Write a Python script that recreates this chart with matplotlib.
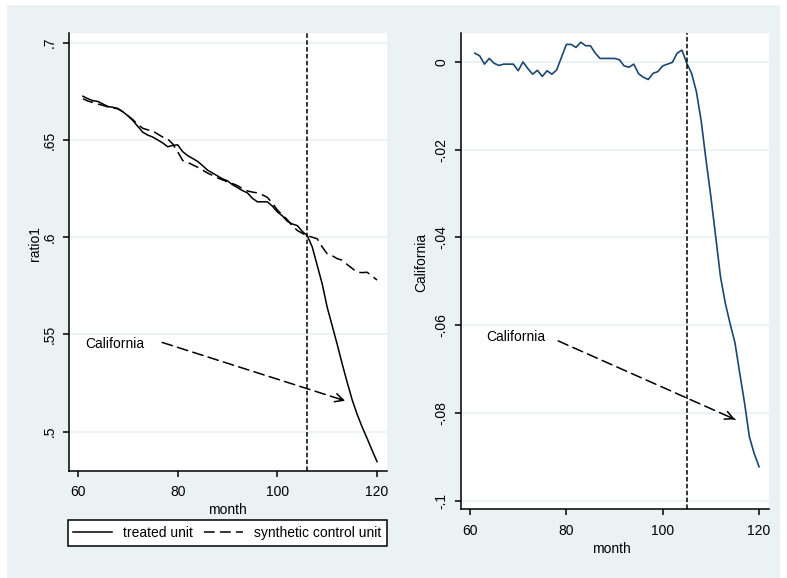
import matplotlib
matplotlib.use('Agg')
import matplotlib.pyplot as plt
from matplotlib.patches import Rectangle
from matplotlib.lines import Line2D

plt.rcParams['font.family'] = ['Liberation Sans', 'DejaVu Sans']

months = list(range(61, 121))

treated = [0.6725, 0.6712, 0.6702, 0.6698, 0.6685, 0.6672, 0.6668, 0.6662, 0.6645, 0.6625,
           0.6600, 0.6570, 0.6540, 0.6525, 0.6515, 0.6500, 0.6485, 0.6465, 0.6472, 0.6475,
           0.6440, 0.6420, 0.6405, 0.6390, 0.6368, 0.6345, 0.6330, 0.6315, 0.6300, 0.6290,
           0.6270, 0.6255, 0.6240, 0.6228, 0.6200, 0.6182, 0.6182, 0.6182, 0.6160, 0.6130,
           0.6110, 0.6082, 0.6068, 0.6060, 0.6030, 0.6008, 0.5950, 0.5855, 0.5760, 0.5640,
           0.5545, 0.5450, 0.5350, 0.5255, 0.5165, 0.5090, 0.5025, 0.4966, 0.4905, 0.4846]

synthetic = [0.6712, 0.6700, 0.6693, 0.6685, 0.6678, 0.6670, 0.6665, 0.6660, 0.6645, 0.6625,
             0.6605, 0.6580, 0.6560, 0.6552, 0.6547, 0.6530, 0.6515, 0.6505, 0.6480, 0.6440,
             0.6395, 0.6385, 0.6372, 0.6360, 0.6345, 0.6330, 0.6318, 0.6305, 0.6295, 0.6285,
             0.6276, 0.6265, 0.6250, 0.6238, 0.6232, 0.6228, 0.6218, 0.6205, 0.6175, 0.6140,
             0.6115, 0.6090, 0.6058, 0.6035, 0.6020, 0.6008, 0.6000, 0.5992, 0.5950, 0.5915,
             0.5905, 0.5890, 0.5882, 0.5860, 0.5840, 0.5820, 0.5818, 0.5820, 0.5800, 0.5780]

gap = [0.0020, 0.0014, -0.0005, 0.0008, -0.0003, -0.0008, -0.0005, -0.0005, -0.0005, -0.0020,
       0.0000, -0.0015, -0.0028, -0.0019, -0.0033, -0.0020, -0.0028, -0.0018, 0.0011, 0.0040,
       0.0040, 0.0033, 0.0045, 0.0037, 0.0037, 0.0020, 0.0008, 0.0008, 0.0008, 0.0008,
       0.0005, -0.0009, -0.0012, -0.0005, -0.0027, -0.0035, -0.0040, -0.0026, -0.0022, -0.0009,
       -0.0005, -0.0001, 0.0020, 0.0027, -0.0003, -0.0026, -0.0068, -0.0135, -0.0224, -0.0307,
       -0.0398, -0.0490, -0.0550, -0.0597, -0.0640, -0.0710, -0.0778, -0.0855, -0.0893, -0.0923]

left_yticks = [0.5, 0.55, 0.6, 0.65, 0.7]
left_yticklabels = ['.5', '.55', '.6', '.65', '.7']
right_yticks = [-0.1, -0.08, -0.06, -0.04, -0.02, 0]
right_yticklabels = ['-.1', '-.08', '-.06', '-.04', '-.02', '0']
xticks = [60, 80, 100, 120]

left_treat_month = 106
right_treat_month = 105

bg = '#EAF2F3'
navy = '#1A476F'

fig = plt.figure(figsize=(7.87, 5.78), dpi=100)
fig.patch.set_facecolor('white')
fig.patches.append(Rectangle((7 / 787, 0), 773 / 787, 573 / 578, transform=fig.transFigure,
                             facecolor=bg, edgecolor='none', zorder=-10))

ax1 = fig.add_axes([69 / 787, 107 / 578, 318 / 787, 438 / 578])
ax2 = fig.add_axes([461 / 787, 68.7 / 578, 308 / 787, 476.3 / 578])


def style(ax, yticks, ylabels):
    ax.set_facecolor('white')
    for s in ['top', 'right']:
        ax.spines[s].set_visible(False)
    for s in ['left', 'bottom']:
        ax.spines[s].set_linewidth(1.1)
    ax.set_xticks(xticks)
    ax.set_xticklabels([str(t) for t in xticks])
    ax.set_yticks(yticks)
    ax.set_yticklabels(ylabels, rotation=90, va='center')
    ax.tick_params(axis='both', direction='out', length=4.3, width=1.1, labelsize=10)
    ax.tick_params(axis='x', pad=6)
    ax.tick_params(axis='y', pad=4.5)
    for y in yticks:
        ax.axhline(y, color=bg, lw=1.3, zorder=0)


def label_arrow(ax, start, end):
    # dashed shaft, solid open head
    ax.annotate('', xy=end, xytext=start,
                arrowprops=dict(arrowstyle='-', color='black', lw=1.1,
                                linestyle=(0, (7, 3.5)), shrinkA=0, shrinkB=0))
    near = (start[0] + 0.97 * (end[0] - start[0]), start[1] + 0.97 * (end[1] - start[1]))
    ax.annotate('', xy=end, xytext=near,
                arrowprops=dict(arrowstyle='->,head_length=0.6,head_width=0.3', color='black',
                                lw=1.1, shrinkA=0, shrinkB=0))


# left panel: treated vs synthetic
style(ax1, left_yticks, left_yticklabels)
ax1.plot(months, treated, color='black', lw=1.1, label='treated unit')
ax1.plot(months, synthetic, color='black', lw=1.1, dashes=(7, 3.5), label='synthetic control unit')
ax1.axvline(left_treat_month, color='black', lw=1.1, dashes=(3, 1.5))
ax1.set_xlim(58.2, 122.0)
ax1.set_ylim(0.4798, 0.705)
ax1.set_xlabel('month', fontsize=10)
ax1.set_ylabel('ratio1', fontsize=10)
ax1.xaxis.set_label_coords(0.497, -0.072)
ax1.yaxis.set_label_coords(-0.085, 0.519)
ax1.text(61.4, 0.5451, 'California', fontsize=10, va='center', ha='left')
label_arrow(ax1, (76.9, 0.5459), (113.6, 0.5159))

# right panel: gap
style(ax2, right_yticks, right_yticklabels)
ax2.plot(months, gap, color=navy, lw=1.2)
ax2.axvline(right_treat_month, color='black', lw=1.1, dashes=(3, 1.5))
ax2.set_xlim(58.13, 122.07)
ax2.set_ylim(-0.102, 0.0066)
ax2.set_xlabel('month', fontsize=10)
ax2.set_ylabel('California', fontsize=10)
ax2.xaxis.set_label_coords(0.49, -0.069)
ax2.yaxis.set_label_coords(-0.107, 0.519)
ax2.text(63.3, -0.0628, 'California', fontsize=10, va='center', ha='left')
label_arrow(ax2, (78.3, -0.0636), (115.0, -0.0815))

handles = [Line2D([], [], color='black', lw=1.1),
           Line2D([], [], color='black', lw=1.1, dashes=(7, 3.5))]
leg = fig.legend(handles, ['treated unit', 'synthetic control unit'], ncol=2,
                 loc='center', bbox_to_anchor=(227.5 / 787, 1 - 533 / 578),
                 fontsize=10, frameon=True, fancybox=False, handlelength=2.8,
                 handletextpad=0.8, columnspacing=0.8, borderpad=0.4)
leg.get_frame().set_edgecolor('black')
leg.get_frame().set_linewidth(1.1)
leg.get_frame().set_facecolor('white')
leg.get_frame().set_alpha(1)

fig.savefig('out.png', dpi=100, facecolor=fig.get_facecolor())
